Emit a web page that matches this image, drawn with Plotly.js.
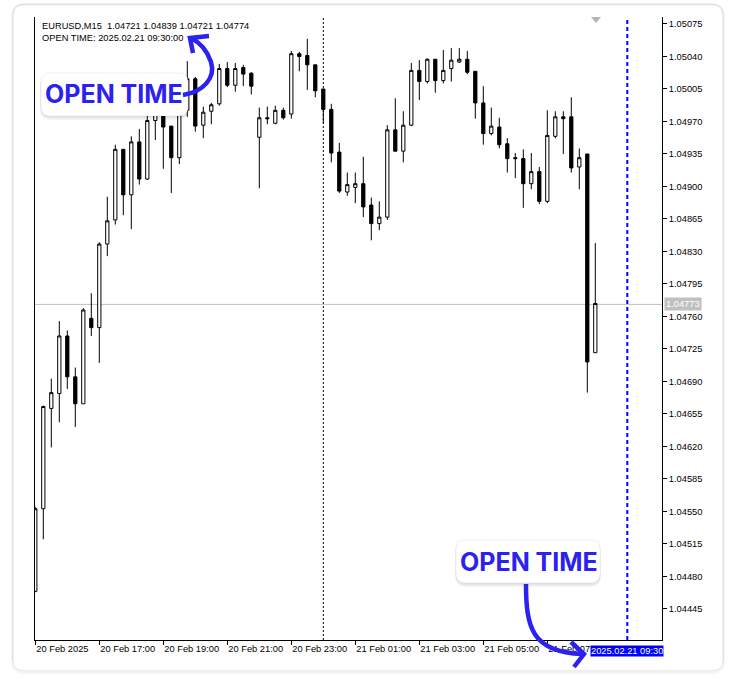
<!DOCTYPE html>
<html><head><meta charset="utf-8">
<script src="https://cdn.plot.ly/plotly-3.0.1.min.js"></script>
<style>html,body{margin:0;padding:0;background:#fff;}#chart{width:737px;height:684px;}</style>
</head><body><div id="chart"></div>
<script>
// ---- data: EURUSD M15 bars, 20 Feb 2025 15:00 -> 21 Feb 2025 08:30 ----
const openP  = [1.04464,1.04553,1.04661,1.04677,1.04739,1.04695,1.04666,1.04758,1.04748,1.04838,
                1.04864,1.04940,1.04891,1.04948,1.04908,1.04971,1.04979,1.04965,1.04931,1.04982,
                1.05016,1.04966,1.04981,1.04989,1.05027,1.05009,1.05028,1.05022,1.04953,1.04974,
                1.04968,1.04982,1.04978,1.05043,1.05041,1.05031,1.05005,1.04983,1.04937,1.04894,
                1.04899,1.04903,1.04880,1.04860,1.04867,1.04961,1.04938,1.04966,1.05025,1.05013,
                1.05037,1.05014,1.05027,1.05034,1.05037,1.05024,1.04990,1.04957,1.04964,1.04946,
                1.04931,1.04930,1.04903,1.04916,1.04884,1.04954,1.04975,1.04975,1.04921,1.04935,
                1.04721];
const highP  = [1.04555,1.04664,1.04693,1.04755,1.04745,1.04705,1.04769,1.04785,1.04840,1.04889,
                1.04945,1.04940,1.04954,1.04962,1.04979,1.04982,1.04980,1.04965,1.04985,1.05035,
                1.05018,1.04986,1.04990,1.05032,1.05034,1.05033,1.05031,1.05023,1.04985,1.04986,
                1.04987,1.04985,1.05046,1.05045,1.05059,1.05031,1.05005,1.04989,1.04947,1.04915,
                1.04915,1.04932,1.04888,1.04884,1.04966,1.04995,1.04981,1.05033,1.05036,1.05038,
                1.05037,1.05047,1.05049,1.05049,1.05046,1.05024,1.05008,1.04985,1.04974,1.04952,
                1.04936,1.04940,1.04936,1.04921,1.04982,1.04981,1.04981,1.04996,1.04941,1.04935,
                1.04839];
const lowP   = [1.04463,1.04520,1.04619,1.04646,1.04682,1.04641,1.04666,1.04739,1.04710,1.04825,
                1.04859,1.04869,1.04854,1.04902,1.04907,1.04950,1.04919,1.04893,1.04924,1.04975,
                1.04959,1.04952,1.04967,1.04987,1.05007,1.05002,1.05008,1.04999,1.04898,1.04967,
                1.04967,1.04972,1.04973,1.05024,1.05004,1.04996,1.04968,1.04926,1.04893,1.04890,
                1.04882,1.04867,1.04842,1.04853,1.04864,1.04938,1.04926,1.04965,1.04993,1.05011,
                1.05001,1.05011,1.05013,1.05033,1.05021,1.04973,1.04945,1.04955,1.04941,1.04915,
                1.04909,1.04877,1.04897,1.04881,1.04882,1.04952,1.04935,1.04915,1.04897,1.04678,
                1.04721];
const closeP = [1.04553,1.04663,1.04678,1.04739,1.04695,1.04666,1.04767,1.04748,1.04838,1.04863,
                1.04940,1.04891,1.04948,1.04908,1.04971,1.04978,1.04964,1.04931,1.04981,1.05016,
                1.04965,1.04980,1.04988,1.05027,1.05009,1.05027,1.05021,1.05008,1.04974,1.04973,
                1.04982,1.04974,1.05043,1.05040,1.05031,1.05003,1.04983,1.04936,1.04895,1.04902,
                1.04903,1.04878,1.04860,1.04867,1.04961,1.04938,1.04966,1.05025,1.05013,1.05037,
                1.05014,1.05025,1.05036,1.05037,1.05023,1.04990,1.04957,1.04965,1.04945,1.04930,
                1.04930,1.04903,1.04916,1.04884,1.04955,1.04975,1.04973,1.04920,1.04931,1.04711,
                1.04774];
const tickBars   = [0, 8, 16, 24, 32, 40, 48, 56, 64];
const tickLabels = ["20 Feb 2025","20 Feb 17:00","20 Feb 19:00","20 Feb 21:00","20 Feb 23:00",
                    "21 Feb 01:00","21 Feb 03:00","21 Feb 05:00","21 Feb 07:00"];
const dayBreakBar  = 36;
const cursorBar    = 74;
const cursorLabel  = "2025.02.21 09:30";
const lastPrice    = 1.04773;
const priceTick0   = 1.04445;
const priceStep    = 0.00035;
const headerLine1  = "EURUSD,M15  1.04721 1.04839 1.04721 1.04774";
const headerLine2  = "OPEN TIME: 2025.02.21 09:30:00";
const calloutText  = "OPEN TIME";

const bars = openP.map((_, i) => i);

// ---- geometry helpers (pixel -> paper) for decorations ----
const PL = 35, PR = 662, PT = 17, PB = 640;
const X = px => (px - PL) / (PR - PL);
const Y = py => (PB - py) / (PB - PT);
const pt = (x, y) => X(x).toFixed(5) + ',' + Y(y).toFixed(5);
function rr(x0, y0, x1, y1, r) {
  return 'M' + pt(x0 + r, y0) + ' L' + pt(x1 - r, y0) + ' Q' + pt(x1, y0) + ' ' + pt(x1, y0 + r) +
         ' L' + pt(x1, y1 - r) + ' Q' + pt(x1, y1) + ' ' + pt(x1 - r, y1) +
         ' L' + pt(x0 + r, y1) + ' Q' + pt(x0, y1) + ' ' + pt(x0, y1 - r) +
         ' L' + pt(x0, y0 + r) + ' Q' + pt(x0, y0) + ' ' + pt(x0 + r, y0) + ' Z';
}
const BLUE = '#2b21f0';
const pshape = (path, opts) => Object.assign({type: 'path', xref: 'paper', yref: 'paper', path: path,
  line: {width: 0}, fillcolor: 'rgba(0,0,0,0)', layer: 'above'}, opts);

function bubble(x0, y0, x1, y1) {
  const s = [];
  s.push(pshape(rr(x0 - 1, y0 + 1, x1 + 1, y1 + 4, 11), {fillcolor: 'rgba(0,0,0,0.04)'}));
  s.push(pshape(rr(x0 - 0.5, y0 + 0.5, x1 + 0.5, y1 + 2.5, 10), {fillcolor: 'rgba(0,0,0,0.06)'}));
  s.push(pshape(rr(x0, y0, x1, y1, 9), {fillcolor: '#ffffff', line: {width: 1, color: 'rgba(0,0,0,0.06)'}}));
  return s;
}

const shapes = [];
// card outline with soft shadow
shapes.push(pshape(rr(12, 5, 724, 673, 12), {fillcolor: 'rgba(0,0,0,0)', line: {width: 2, color: 'rgba(0,0,0,0.04)'}, layer: 'below'}));
shapes.push(pshape(rr(13, 4, 723, 671, 11), {fillcolor: 'rgba(0,0,0,0)', line: {width: 1, color: 'rgba(0,0,0,0.13)'}, layer: 'below'}));
// price line
shapes.push({type: 'line', xref: 'paper', x0: 0, x1: 1, yref: 'y', y0: lastPrice, y1: lastPrice,
  line: {color: '#c0c0c0', width: 1}, layer: 'below'});
// day separator
shapes.push({type: 'line', xref: 'x', x0: dayBreakBar, x1: dayBreakBar, yref: 'paper', y0: 0, y1: 1,
  line: {color: '#000', width: 1, dash: '2px,2px'}, layer: 'below'});
// cursor line
shapes.push({type: 'line', xref: 'x', x0: cursorBar, x1: cursorBar, yref: 'paper', y0: 0, y1: 1,
  line: {color: '#0000ff', width: 2, dash: '4px,3px'}, layer: 'above'});
// chart shift triangle
shapes.push(pshape('M' + pt(591, 17) + ' L' + pt(601, 17) + ' L' + pt(596, 23) + ' Z', {fillcolor: '#b4b4b4'}));
// callout bubbles
shapes.push(...bubble(41, 73, 188, 116));
shapes.push(...bubble(456, 540, 600, 583));
// arrows
const arrowLine = {width: 4.5, color: BLUE};
shapes.push(pshape('M' + pt(183, 95) + ' C' + pt(203, 92) + ' ' + pt(216, 78) + ' ' + pt(211, 62) +
  ' C' + pt(207, 50) + ' ' + pt(199, 42) + ' ' + pt(191, 38), {line: arrowLine}));
shapes.push(pshape('M' + pt(209, 36) + ' L' + pt(190, 38) + ' L' + pt(193, 53), {line: arrowLine}));
shapes.push(pshape('M' + pt(526, 584) + ' C' + pt(526, 628) + ' ' + pt(532, 652) + ' ' + pt(582, 654), {line: arrowLine}));
shapes.push(pshape('M' + pt(571, 642) + ' L' + pt(584, 654) + ' L' + pt(574, 667), {line: arrowLine}));

const smallFont = {family: 'Liberation Sans, Arial, sans-serif', size: 9.3, color: '#000'};
const annotations = [
  {xref: 'paper', yref: 'paper', x: X(40), y: Y(26), xanchor: 'left', yanchor: 'middle', showarrow: false,
   text: headerLine1.replace(/ /g, '&nbsp;'), font: smallFont},
  {xref: 'paper', yref: 'paper', x: X(40), y: Y(38), xanchor: 'left', yanchor: 'middle', showarrow: false,
   text: headerLine2, font: smallFont},
  {xref: 'paper', yref: 'paper', x: X(114), y: Y(93.5), xanchor: 'center', yanchor: 'middle', showarrow: false,
   text: calloutText, font: {family: 'Inter, sans-serif', size: 25, color: BLUE, weight: 700}},
  {xref: 'paper', yref: 'paper', x: X(529), y: Y(562), xanchor: 'center', yanchor: 'middle', showarrow: false,
   text: calloutText, font: {family: 'Inter, sans-serif', size: 25, color: BLUE, weight: 700}},
  {xref: 'x', yref: 'paper', x: cursorBar, y: Y(651), xanchor: 'center', yanchor: 'middle', showarrow: false,
   text: cursorLabel, bgcolor: '#0000ff', borderpad: 0,
   font: {family: 'Liberation Sans, Arial, sans-serif', size: 9.3, color: '#fff'}},
  {xref: 'paper', yref: 'y', x: X(664), y: lastPrice, xanchor: 'left', yanchor: 'middle', showarrow: false,
   text: lastPrice.toFixed(5), bgcolor: '#c0c0c0', borderpad: 1,
   font: {family: 'Liberation Sans, Arial, sans-serif', size: 9.3, color: '#fff'}}
];

const trace = {
  type: 'candlestick', x: bars, open: openP, high: highP, low: lowP, close: closeP,
  increasing: {line: {color: '#000', width: 1}, fillcolor: '#ffffff'},
  decreasing: {line: {color: '#000', width: 1}, fillcolor: '#000000'},
  whiskerwidth: 0, hoverinfo: 'skip', showlegend: false
};

const layout = {
  width: 737, height: 684,
  margin: {l: PL, r: 737 - PR, t: PT, b: 684 - PB, pad: 0},
  paper_bgcolor: '#ffffff', plot_bgcolor: '#ffffff',
  showlegend: false, boxgap: 0.42,
  font: smallFont,
  xaxis: {
    range: [(PL - 35.3) / 8, (PR - 35.3) / 8], fixedrange: true,
    rangeslider: {visible: false},
    tickmode: 'array', tickvals: tickBars, ticktext: tickLabels,
    ticks: 'outside', ticklen: 4, tickwidth: 1, tickcolor: '#000',
    ticklabelposition: 'outside right',
    showgrid: false, zeroline: false, showline: true, linecolor: '#000', linewidth: 1, mirror: false,
    tickfont: smallFont
  },
  yaxis: {
    side: 'right', range: [1.044116, 1.050825], fixedrange: true,
    tick0: priceTick0, dtick: priceStep, tickformat: '.5f',
    ticks: 'outside', ticklen: 4, tickwidth: 1, tickcolor: '#000',
    showgrid: false, zeroline: false, showline: true, linecolor: '#000', linewidth: 1, mirror: true,
    tickfont: smallFont
  },
  shapes: shapes,
  annotations: annotations
};

Plotly.newPlot('chart', [trace], layout, {staticPlot: true, displayModeBar: false});
</script>
</body></html>
